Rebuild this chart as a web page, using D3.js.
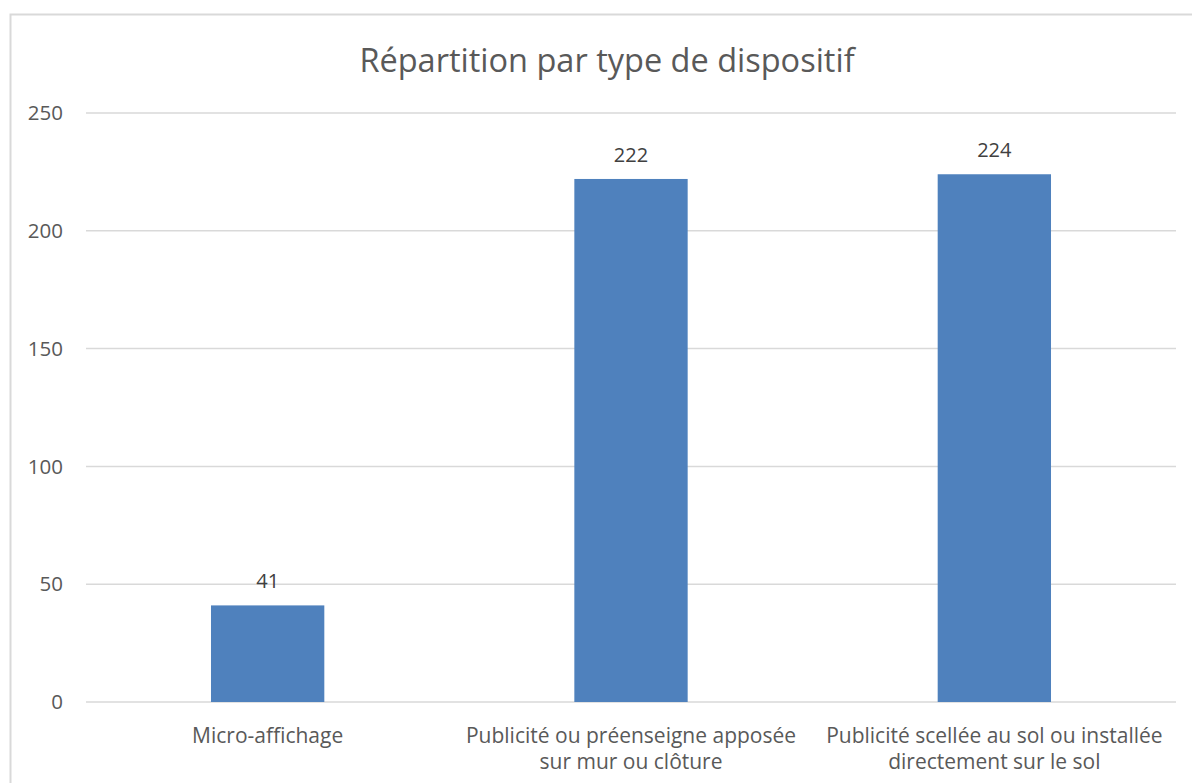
<!DOCTYPE html>
<html>
<head>
<meta charset="utf-8">
<title>Répartition par type de dispositif</title>
<script src="https://d3js.org/d3.v7.min.js"></script>
<style>
  body { margin: 0; background: #fff; }
  text { font-family: "Open Sans", sans-serif; fill: #595959; }
</style>
</head>
<body>
<svg id="chart" width="1192" height="783"></svg>
<script>
var categories = [
  ["Micro-affichage"],
  ["Publicité ou préenseigne apposée", "sur mur ou clôture"],
  ["Publicité scellée au sol ou installée", "directement sur le sol"]
];
var values = [41, 222, 224];
var yTicks = [0, 50, 100, 150, 200, 250];
var title = "Répartition par type de dispositif";

var svg = d3.select("#chart");
var plotLeft = 86, plotRight = 1176, plotTop = 113, plotBottom = 702;

// chart border
svg.append("rect")
  .attr("x", 10.5).attr("y", 14.5)
  .attr("width", 1200).attr("height", 800)
  .attr("fill", "none").attr("stroke", "#d9d9d9").attr("stroke-width", 2);

var x = d3.scaleBand()
  .domain(d3.range(categories.length))
  .range([plotLeft, plotRight])
  .paddingInner(0.6881).paddingOuter(0.344);

var y = d3.scaleLinear().domain([0, 250]).range([plotBottom, plotTop]);

// gridlines
svg.append("g").selectAll("line")
  .data(yTicks).enter().append("line")
  .attr("x1", plotLeft).attr("x2", plotRight)
  .attr("y1", function(d) { return y(d); })
  .attr("y2", function(d) { return y(d); })
  .attr("stroke", "#d9d9d9").attr("stroke-width", 1.5);

// y labels
svg.append("g").selectAll("text")
  .data(yTicks).enter().append("text")
  .attr("x", 63).attr("y", function(d) { return y(d); })
  .attr("dy", "0.35em")
  .attr("text-anchor", "end")
  .attr("font-size", 20.5)
  .text(function(d) { return d; });

// bars
svg.append("g").selectAll("rect")
  .data(values).enter().append("rect")
  .attr("x", function(d, i) { return x(i); })
  .attr("width", x.bandwidth())
  .attr("y", function(d) { return y(d); })
  .attr("height", function(d) { return y(0) - y(d); })
  .attr("fill", "#4f81bd");

// value labels
svg.append("g").selectAll("text")
  .data(values).enter().append("text")
  .attr("x", function(d, i) { return x(i) + x.bandwidth() / 2; })
  .attr("y", function(d) { return y(d) - 17; })
  .attr("text-anchor", "middle")
  .attr("font-size", 20)
  .style("fill", "#404040")
  .text(function(d) { return d; });

// category labels
var cat = svg.append("g").selectAll("text")
  .data(categories).enter().append("text")
  .attr("text-anchor", "middle")
  .attr("font-size", 21)
  .attr("transform", function(d, i) {
    return "translate(" + (x(i) + x.bandwidth() / 2) + "," + (plotBottom + 41) + ")";
  });
cat.selectAll("tspan")
  .data(function(d) { return d; }).enter().append("tspan")
  .attr("x", 0)
  .attr("dy", function(d, j) { return j === 0 ? 0 : 26; })
  .text(function(d) { return d; });

// title
svg.append("text")
  .attr("x", 607).attr("y", 72)
  .attr("text-anchor", "middle")
  .attr("font-size", 32.5)
  .text(title);
</script>
</body>
</html>
